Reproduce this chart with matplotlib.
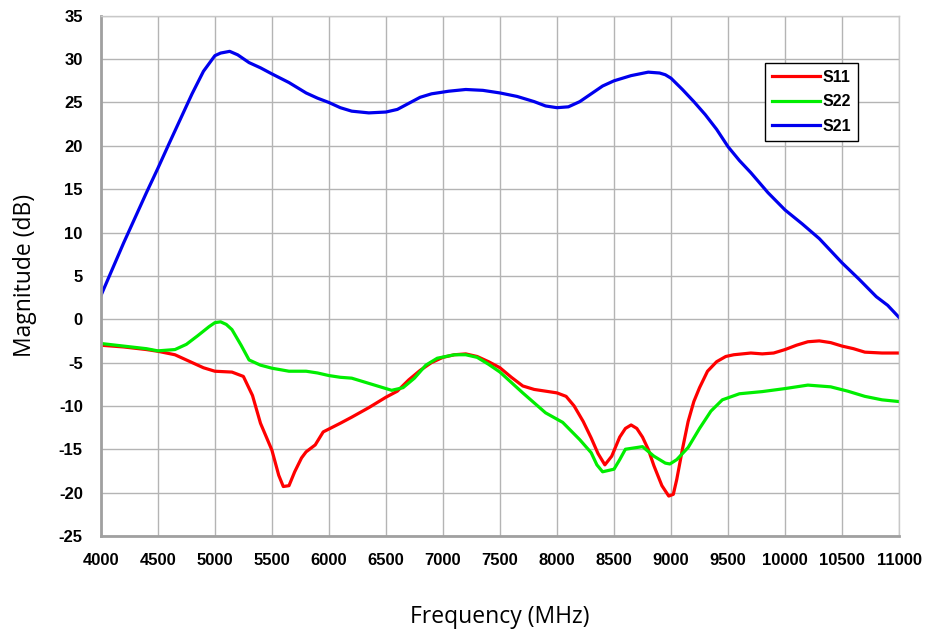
import matplotlib.pyplot as plt

# frequencies (MHz) and magnitudes (dB)
f_s21 = [4000, 4200, 4400, 4500, 4600, 4800, 4900, 5000, 5050, 5130, 5200, 5300, 5400,
         5500, 5650, 5800, 5900, 6000, 6100, 6200, 6350, 6500, 6600, 6700, 6800, 6900,
         7050, 7200, 7350, 7500, 7650, 7800, 7900, 8000, 8100, 8200, 8300, 8400, 8500,
         8650, 8800, 8900, 8950, 9000, 9100, 9200, 9300, 9400, 9500, 9600, 9700, 9850,
         10000, 10150, 10300, 10500, 10650, 10800, 10900, 11000]
s21 = [2.7, 8.8, 14.6, 17.4, 20.3, 26.0, 28.6, 30.4, 30.7, 30.9, 30.5, 29.6, 29.0,
       28.3, 27.3, 26.1, 25.5, 25.0, 24.4, 24.0, 23.8, 23.9, 24.2, 24.9, 25.6, 26.0,
       26.3, 26.5, 26.4, 26.1, 25.7, 25.1, 24.6, 24.4, 24.5, 25.1, 26.0, 26.9, 27.5,
       28.1, 28.5, 28.4, 28.2, 27.8, 26.5, 25.1, 23.6, 21.9, 19.9, 18.3, 16.9, 14.6,
       12.6, 11.0, 9.3, 6.5, 4.6, 2.6, 1.6, 0.2]

f_s11 = [4000, 4200, 4400, 4500, 4650, 4800, 4900, 5000, 5150, 5250, 5330, 5400, 5500,
         5560, 5600, 5650, 5700, 5760, 5800, 5880, 5950, 6100, 6200, 6350, 6500, 6600,
         6700, 6800, 6900, 7000, 7100, 7200, 7300, 7400, 7500, 7600, 7700, 7800, 7900,
         8000, 8080, 8150, 8230, 8300, 8360, 8420, 8480, 8550, 8600, 8650, 8700, 8750,
         8800, 8850, 8920, 8980, 9020, 9050, 9100, 9150, 9200, 9250, 9320, 9400, 9480,
         9550, 9700, 9800, 9900, 10000, 10100, 10200, 10300, 10400, 10500, 10600,
         10700, 10850, 11000]
s11 = [-3.0, -3.2, -3.5, -3.7, -4.1, -5.0, -5.6, -6.0, -6.1, -6.6, -8.8, -12.0, -15.1,
       -18.0, -19.3, -19.2, -17.6, -16.0, -15.3, -14.5, -13.0, -12.0, -11.3, -10.2,
       -9.0, -8.3, -7.0, -5.9, -5.0, -4.4, -4.1, -4.0, -4.3, -4.9, -5.6, -6.7, -7.7,
       -8.1, -8.3, -8.5, -8.9, -10.0, -11.8, -13.7, -15.5, -16.8, -15.8, -13.6, -12.6,
       -12.2, -12.6, -13.6, -15.0, -16.9, -19.2, -20.4, -20.2, -18.5, -15.0, -11.8,
       -9.5, -7.9, -6.0, -4.9, -4.3, -4.1, -3.9, -4.0, -3.9, -3.5, -3.0, -2.6, -2.5,
       -2.7, -3.1, -3.4, -3.8, -3.9, -3.9]

f_s22 = [4000, 4200, 4400, 4500, 4650, 4750, 4850, 4950, 5000, 5050, 5100, 5150, 5230,
         5300, 5400, 5500, 5650, 5800, 5900, 6000, 6100, 6200, 6300, 6400, 6550, 6650,
         6750, 6850, 6950, 7100, 7200, 7300, 7400, 7500, 7700, 7900, 8050, 8200, 8300,
         8350, 8400, 8500, 8550, 8600, 8700, 8750, 8850, 8950, 8990, 9050, 9150, 9250,
         9350, 9450, 9600, 9800, 10000, 10200, 10400, 10550, 10700, 10850, 11000]
s22 = [-2.8, -3.1, -3.4, -3.65, -3.5, -2.9, -1.9, -0.85, -0.4, -0.3, -0.6, -1.2, -3.0,
       -4.7, -5.3, -5.65, -6.0, -6.0, -6.2, -6.5, -6.7, -6.8, -7.2, -7.6, -8.2, -7.9,
       -6.8, -5.3, -4.5, -4.1, -4.1, -4.4, -5.2, -6.1, -8.5, -10.8, -11.9, -13.9, -15.4,
       -16.8, -17.6, -17.3, -16.2, -15.0, -14.8, -14.7, -15.8, -16.6, -16.7, -16.2,
       -14.8, -12.6, -10.6, -9.3, -8.6, -8.35, -8.0, -7.6, -7.8, -8.3, -8.9, -9.3, -9.5]

x_ticks = list(range(4000, 11001, 500))
y_ticks = list(range(-25, 36, 5))

plt.rcParams['font.family'] = ['Liberation Sans', 'DejaVu Sans']
plt.rcParams['axes.unicode_minus'] = False

fig = plt.figure(figsize=(9.25, 6.32), dpi=100)
ax = fig.add_axes([0.109, 0.152, 0.863, 0.823])

ax.plot(f_s11, s11, color='#ff0000', lw=2.3, label='S11')
ax.plot(f_s22, s22, color='#00ee00', lw=2.3, label='S22')
ax.plot(f_s21, s21, color='#0000ee', lw=2.3, label='S21')

ax.set_xlim(4000, 11000)
ax.set_ylim(-25, 35)
ax.set_xticks(x_ticks)
ax.set_yticks(y_ticks)
ax.tick_params(axis='x', length=0, labelsize=12, pad=12)
ax.tick_params(axis='y', length=0, labelsize=12, pad=13)
for lbl in ax.get_xticklabels() + ax.get_yticklabels():
    lbl.set_fontweight('bold')

ax.grid(True, color='#b4b4b4', lw=1.0)
ax.set_axisbelow(True)
for side in ['top', 'right']:
    ax.spines[side].set_color('#c8c8c8')
    ax.spines[side].set_linewidth(1.0)
for side in ['left', 'bottom']:
    ax.spines[side].set_color('#a0a0a0')
    ax.spines[side].set_linewidth(2.0)

ax.set_xlabel('Frequency (MHz)', family=['Open Sans', 'DejaVu Sans'], fontsize=16.5, labelpad=27)
ax.set_ylabel('Magnitude (dB)', family=['Open Sans', 'DejaVu Sans'], fontsize=16.5, labelpad=16)

leg = ax.legend(loc='upper left', bbox_to_anchor=(0.832, 0.91), fancybox=False,
                edgecolor='black', framealpha=1, handlelength=3.0, handletextpad=0.15,
                labelspacing=0.6, borderpad=0.45, borderaxespad=0,
                prop={'weight': 'bold', 'size': 11.5})
leg.get_frame().set_linewidth(1.0)

fig.savefig('out.png', dpi=100)
